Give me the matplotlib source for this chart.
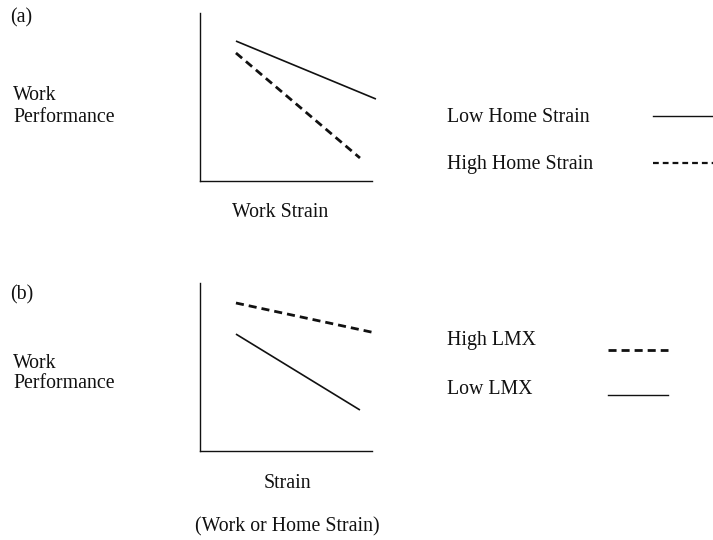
import matplotlib
matplotlib.use("Agg")
import matplotlib.pyplot as plt
from matplotlib.lines import Line2D

plt.rcParams['font.family'] = ['Liberation Serif', 'DejaVu Serif']

# Panel (a): work strain x home strain
a_low_x = [2.09, 10.23]
a_low_y = [8.33, 4.88]
a_high_x = [2.09, 9.30]
a_high_y = [7.62, 1.37]
# Panel (b): strain x LMX
b_high_x = [2.09, 10.23]
b_high_y = [8.81, 7.02]
b_low_x = [2.09, 9.30]
b_low_y = [6.96, 2.44]

labels_a = ["Low Home Strain", "High Home Strain"]
labels_b = ["High LMX", "Low LMX"]

W, H = 713, 540
fig = plt.figure(figsize=(W / 100, H / 100), dpi=100)

def px_axes(left, top, right, bottom):
    return fig.add_axes([left / W, 1 - bottom / H, (right - left) / W, (bottom - top) / H])

def style(ax):
    ax.set_xlim(0, 10)
    ax.set_ylim(0, 10)
    for s in ['top', 'right']:
        ax.spines[s].set_visible(False)
    for s in ['left', 'bottom']:
        ax.spines[s].set_linewidth(1.0)
        ax.spines[s].set_color('#111111')
    ax.set_xticks([])
    ax.set_yticks([])
    ax.patch.set_alpha(0)

FS = 14.3
solid_kw = dict(color='#111111', lw=1.2, clip_on=False, solid_capstyle='butt')
dash_kw = dict(color='#111111', lw=2.0, clip_on=False, dashes=(2.9, 1.8))

axa = px_axes(200, 13, 372, 181)
style(axa)
axa.plot(a_low_x, a_low_y, **solid_kw)
axa.plot(a_high_x, a_high_y, **dash_kw)

axb = px_axes(200, 283, 372, 451)
style(axb)
axb.plot(b_high_x, b_high_y, **dash_kw)
axb.plot(b_low_x, b_low_y, **solid_kw)

def txt(x, y, s, ha='left'):
    fig.text(x / W, 1 - y / H, s, ha=ha, va='center', fontsize=FS, color='#111111')

txt(10, 18, "(a)")
txt(13, 96, "Work")
txt(13, 117, "Performance")
txt(280, 213, "Work Strain", ha='center')
txt(447, 117, labels_a[0])
txt(447, 164, labels_a[1])

txt(10, 295, "(b)")
txt(13, 363, "Work")
txt(13, 383, "Performance")
txt(287, 483, "Strain", ha='center')
txt(287, 527, "(Work or Home Strain)", ha='center')
txt(447, 340, labels_b[0])
txt(447, 389, labels_b[1])

def leg_line(x0, x1, y, dashed, lw, dashes=None):
    kw = dict(color='#111111', lw=lw)
    if dashed:
        kw['dashes'] = dashes
    fig.lines.append(Line2D([x0 / W, x1 / W], [1 - y / H, 1 - y / H],
                            transform=fig.transFigure, **kw))

leg_line(653, 713, 116, False, 1.0)
leg_line(653, 713, 163, True, 1.6, (2.6, 1.8))
leg_line(608, 668, 350, True, 2.0, (2.9, 1.8))
leg_line(608, 668, 395, False, 1.0)

fig.savefig("out.png", dpi=100)
